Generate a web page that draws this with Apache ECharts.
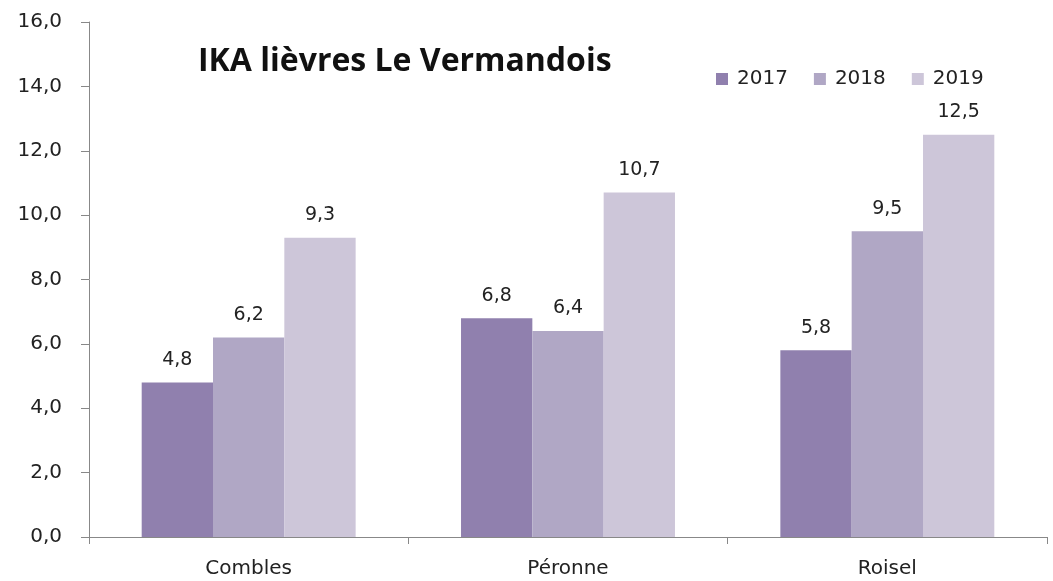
<!DOCTYPE html>
<html>
<head>
<meta charset="utf-8">
<script src="https://cdn.jsdelivr.net/npm/echarts@6/dist/echarts.min.js"></script>
<style>
  html, body { margin: 0; padding: 0; background: #fff; }
  #chart { width: 1053px; height: 581px; }
</style>
</head>
<body>
<div id="chart"></div>
<script>
// données IKA
const communes = ["Combles", "Péronne", "Roisel"];
const annees = ["2017", "2018", "2019"];
const ika2017 = [4.8, 6.8, 5.8];
const ika2018 = [6.2, 6.4, 9.5];
const ika2019 = [9.3, 10.7, 12.5];
const couleurs = ["#9080ae", "#b0a7c5", "#cdc6d9"];

const virgule = (v) => v.toFixed(1).replace(".", ",");
const police = "DejaVu Sans";

function serie(nom, data) {
  return {
    name: nom,
    type: "bar",
    barGap: "0%",
    barCategoryGap: "33%",
    data: data,
    label: {
      show: true,
      position: "top",
      distance: 13,
      color: "#222",
      fontFamily: police,
      fontSize: 19,
      formatter: (p) => virgule(p.value),
    },
  };
}

const chart = echarts.init(document.getElementById("chart"));
chart.setOption({
  animation: false,
  color: couleurs,
  title: {
    text: "IKA lièvres Le Vermandois",
    left: 193,
    top: 41,
    textStyle: { fontFamily: "Open Sans", fontWeight: "bold", fontSize: 32, color: "#111" },
  },
  legend: {
    data: annees,
    left: 711,
    top: 64,
    itemWidth: 12,
    itemHeight: 12,
    itemGap: 26,
    icon: "rect",
    textStyle: { fontFamily: police, fontSize: 20, color: "#222", padding: [0, 0, 0, 4] },
  },
  grid: { left: 89, right: 6, top: 22, bottom: 44, containLabel: false },
  xAxis: {
    type: "category",
    data: communes,
    axisLine: { lineStyle: { color: "#888" } },
    axisTick: { show: true, length: 7, lineStyle: { color: "#888" } },
    axisLabel: { fontFamily: police, fontSize: 20, color: "#222", margin: 22 },
  },
  yAxis: {
    type: "value",
    min: 0,
    max: 16,
    interval: 2,
    axisLine: { show: true, lineStyle: { color: "#888" } },
    axisTick: { show: true, length: 8, lineStyle: { color: "#888" } },
    splitLine: { show: false },
    axisLabel: { fontFamily: police, fontSize: 20, color: "#222", margin: 27, formatter: virgule },
  },
  series: [serie("2017", ika2017), serie("2018", ika2018), serie("2019", ika2019)],
});
</script>
</body>
</html>
